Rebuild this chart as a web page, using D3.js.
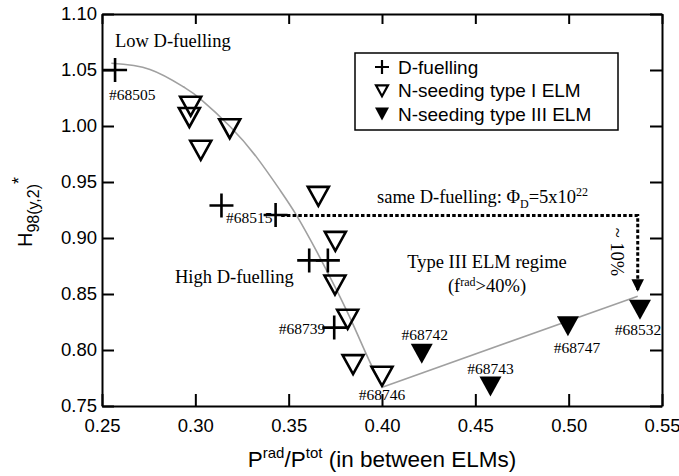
<!DOCTYPE html>
<html>
<head>
<meta charset="utf-8">
<script src="https://cdn.jsdelivr.net/npm/d3@7"></script>
<style>
  body { margin: 0; background: #fff; }
</style>
</head>
<body>
<div class="chart"></div>
<script>
// D-fuelling shots (+)
var dfuelX = [0.257, 0.314, 0.343, 0.361, 0.371, 0.3744];
var dfuelY = [1.050, 0.929, 0.9205, 0.880, 0.880, 0.820];

// N-seeding, type I ELM (open triangles)
var type1X = [0.2975, 0.2968, 0.3184, 0.3029, 0.3659, 0.375, 0.3748, 0.3816, 0.3845, 0.400];
var type1Y = [1.0176, 1.0076, 0.9976, 0.9783, 0.9372, 0.897, 0.858, 0.8274, 0.7869, 0.7765];

// N-seeding, type III ELM (filled triangles)
var type3X = [0.4213, 0.4581, 0.4996, 0.5382];
var type3Y = [0.7967, 0.7673, 0.8211, 0.836];

// grey guide curve, then straight line through the type III points
var fitX = [0.255, 0.2757, 0.2936, 0.3025, 0.3186, 0.3329, 0.3454, 0.3543, 0.365, 0.3757, 0.3846, 0.3936, 0.4005];
var fitY = [1.056, 1.0505, 1.0350, 1.0245, 0.9996, 0.972, 0.9427, 0.920, 0.8880, 0.8534, 0.8224, 0.7890, 0.767];
var lineX = [0.4005, 0.537];
var lineY = [0.767, 0.848];

// "same D-fuelling" dotted arrow
var arrowX = [0.346, 0.537, 0.537];
var arrowY = [0.92, 0.92, 0.852];

var xTicks = [0.25, 0.30, 0.35, 0.40, 0.45, 0.50, 0.55];
var yTicks = [0.75, 0.80, 0.85, 0.90, 0.95, 1.00, 1.05, 1.10];

var legendLabels = ["D-fuelling", "N-seeding type I ELM", "N-seeding type III ELM"];

var width = 679, height = 476;
var margin = {top: 14, right: 17, bottom: 70, left: 102};
var sans = "'Liberation Sans', Arial, sans-serif";
var serif = "'Liberation Serif', 'Times New Roman', serif";

var svg = d3.select(".chart")
    .append("svg")
    .attr("width", width)
    .attr("height", height)

var x = d3.scaleLinear().domain([0.25, 0.55]).range([margin.left, width - margin.right]);
var y = d3.scaleLinear().domain([0.75, 1.10]).range([height - margin.bottom, margin.top]);

// axes, ticks pointing inward on all four sides
var fmt = d3.format(".2f");
var xAxis = svg.append("g")
    .attr("transform", "translate(0," + y(0.75) + ")")
    .call(d3.axisBottom(x).tickValues(xTicks).tickSizeInner(-12).tickSizeOuter(0).tickPadding(12.5).tickFormat(fmt));
var yAxis = svg.append("g")
    .attr("transform", "translate(" + x(0.25) + ",0)")
    .call(d3.axisLeft(y).tickValues(yTicks).tickSizeInner(-12).tickSizeOuter(0).tickPadding(5).tickFormat(fmt));
var topAxis = svg.append("g")
    .attr("transform", "translate(0," + y(1.10) + ")")
    .call(d3.axisTop(x).tickValues(xTicks).tickSizeInner(-10).tickSizeOuter(0).tickFormat(""));
var rightAxis = svg.append("g")
    .attr("transform", "translate(" + x(0.55) + ",0)")
    .call(d3.axisRight(y).tickValues(yTicks).tickSizeInner(-12).tickSizeOuter(0).tickFormat(""));

[xAxis, yAxis, topAxis, rightAxis].forEach(function (g) {
    g.selectAll("path, line").attr("stroke", "#000").attr("stroke-width", 2);
    g.selectAll("text").attr("fill", "#000").style("font-family", sans).style("font-size", "18.5px");
});

// axis titles
var xt = svg.append("text")
    .attr("x", (x(0.25) + x(0.55)) / 2)
    .attr("y", 467)
    .attr("text-anchor", "middle")
    .style("font-family", sans)
    .style("font-size", "22.5px")
xt.append("tspan").text("P");
xt.append("tspan").attr("dy", -9).style("font-size", "15px").text("rad");
xt.append("tspan").attr("dy", 9).text("/P");
xt.append("tspan").attr("dy", -9).style("font-size", "15px").text("tot");
xt.append("tspan").attr("dy", 9).text(" (in between ELMs)");

var yt = svg.append("text")
    .attr("transform", "translate(32," + (y(0.925) + 2) + ") rotate(-90)")
    .attr("text-anchor", "middle")
    .style("font-family", sans)
    .style("font-size", "20px")
yt.append("tspan").text("H");
yt.append("tspan").attr("dy", 7).style("font-size", "16px").text("98(y,2)");
yt.append("tspan").attr("dy", -14).style("font-size", "18px").text("*");

// guide lines
var line = d3.line()
    .x(function (d) { return x(d[0]); })
    .y(function (d) { return y(d[1]); });

svg.append("path")
    .datum(d3.zip(fitX, fitY))
    .attr("d", line.curve(d3.curveNatural))
    .attr("fill", "none")
    .attr("stroke", "#a0a0a0")
    .attr("stroke-width", 1.6)

svg.append("path")
    .datum(d3.zip(lineX, lineY))
    .attr("d", line.curve(d3.curveLinear))
    .attr("fill", "none")
    .attr("stroke", "#a0a0a0")
    .attr("stroke-width", 1.6)

// dotted arrow
svg.append("defs").append("marker")
    .attr("id", "head")
    .attr("viewBox", "0 0 10 10")
    .attr("refX", 10).attr("refY", 5)
    .attr("markerWidth", 4.2).attr("markerHeight", 4.5)
    .attr("markerUnits", "strokeWidth")
    .attr("orient", "auto")
    .append("path")
    .attr("d", "M0,0L10,5L0,10Z")
    .attr("fill", "#000");

svg.append("path")
    .datum(d3.zip(arrowX, arrowY))
    .attr("d", line.curve(d3.curveLinear))
    .attr("fill", "none")
    .attr("stroke", "#000")
    .attr("stroke-width", 3)
    .attr("stroke-dasharray", "3.5,2.2")
    .attr("marker-end", "url(#head)")

// markers
var crossPath = "M-12,0H12M0,-12V12";
var triPath = "M-10.5,-9.5L10.5,-9.5L0,9.5Z";

svg.selectAll(".cross")
    .data(d3.zip(dfuelX, dfuelY))
    .enter()
    .append("path")
    .attr("class", "cross")
    .attr("transform", function (d) { return "translate(" + x(d[0]) + "," + y(d[1]) + ")"; })
    .attr("d", crossPath)
    .attr("stroke", "#000")
    .attr("stroke-width", 2.6)

svg.selectAll(".open")
    .data(d3.zip(type1X, type1Y))
    .enter()
    .append("path")
    .attr("class", "open")
    .attr("transform", function (d) { return "translate(" + x(d[0]) + "," + y(d[1]) + ")"; })
    .attr("d", triPath)
    .attr("fill", "none")
    .attr("stroke", "#000")
    .attr("stroke-width", 2.6)
    .attr("stroke-linejoin", "miter")

svg.selectAll(".filled")
    .data(d3.zip(type3X, type3Y))
    .enter()
    .append("path")
    .attr("class", "filled")
    .attr("transform", function (d) { return "translate(" + x(d[0]) + "," + y(d[1]) + ")"; })
    .attr("d", "M-11,-10L11,-10L0,10Z")
    .attr("fill", "#000")

// shot labels, placed next to their point
var shotLabels = [
    {t: "#68505", px: dfuelX[0], py: dfuelY[0], dx: -6, dy: 30, a: "start"},
    {t: "#68515", px: dfuelX[2], py: dfuelY[2], dx: -3, dy: 8, a: "end"},
    {t: "#68739", px: dfuelX[5], py: dfuelY[5], dx: -9, dy: 6, a: "end"},
    {t: "#68746", px: type1X[9], py: type1Y[9], dx: 0, dy: 24, a: "middle"},
    {t: "#68742", px: type3X[0], py: type3Y[0], dx: 3, dy: -14, a: "middle"},
    {t: "#68743", px: type3X[1], py: type3Y[1], dx: 0, dy: -13, a: "middle"},
    {t: "#68747", px: type3X[2], py: type3Y[2], dx: 9, dy: 27, a: "middle"},
    {t: "#68532", px: type3X[3], py: type3Y[3], dx: -2, dy: 25, a: "middle"}
];
svg.selectAll(".shot")
    .data(shotLabels)
    .enter()
    .append("text")
    .attr("class", "shot")
    .attr("x", function (d) { return x(d.px) + d.dx; })
    .attr("y", function (d) { return y(d.py) + d.dy; })
    .attr("text-anchor", function (d) { return d.a; })
    .style("font-family", serif)
    .style("font-size", "15.5px")
    .text(function (d) { return d.t; })

// regime notes
function note(tx, ty, anchor) {
    return svg.append("text")
        .attr("x", tx).attr("y", ty)
        .attr("text-anchor", anchor || "start")
        .style("font-family", serif)
        .style("font-size", "18.5px");
}
note(x(0.257), 47).text("Low D-fuelling");
note(175, 283).text("High D-fuelling");
note(487, 268, "middle").text("Type III ELM regime");
var f = note(487, 292, "middle");
f.append("tspan").text("(f");
f.append("tspan").attr("dy", -6).style("font-size", "12px").text("rad");
f.append("tspan").attr("dy", 6).text(">40%)");
var s = note(377, 203);
s.append("tspan").text("same D-fuelling: \u03A6");
s.append("tspan").attr("dy", 5).style("font-size", "12px").text("D");
s.append("tspan").attr("dy", -5).text("=5x10");
s.append("tspan").attr("dy", -7).style("font-size", "12px").text("22");

svg.append("text")
    .attr("transform", "translate(611," + 252 + ") rotate(90)")
    .attr("text-anchor", "middle")
    .style("font-family", serif)
    .style("font-size", "18.5px")
    .text("~ 10%")

// legend
var lg = svg.append("g").attr("transform", "translate(355,53)");
lg.append("rect")
    .attr("width", 263).attr("height", 77)
    .attr("fill", "#fff")
    .attr("stroke", "#000")
    .attr("stroke-width", 1.5)
var legendSym = ["M-7,0H7M0,-7V7", "M-6,-5L6,-5L0,6Z", "M-7,-6L7,-6L0,7Z"];
lg.selectAll(".lrow")
    .data(legendLabels)
    .enter()
    .append("g")
    .attr("transform", function (d, i) { return "translate(0," + (21 + i * 23.3) + ")"; })
    .each(function (d, i) {
        var g = d3.select(this);
        g.append("path")
            .attr("transform", "translate(27,-7)")
            .attr("d", legendSym[i])
            .attr("fill", i == 2 ? "#000" : "none")
            .attr("stroke", i == 2 ? "none" : "#000")
            .attr("stroke-width", 2.2)
        g.append("text")
            .attr("x", 43)
            .text(d)
            .style("font-family", sans)
            .style("font-size", "19px")
    })
</script>
</body>
</html>
